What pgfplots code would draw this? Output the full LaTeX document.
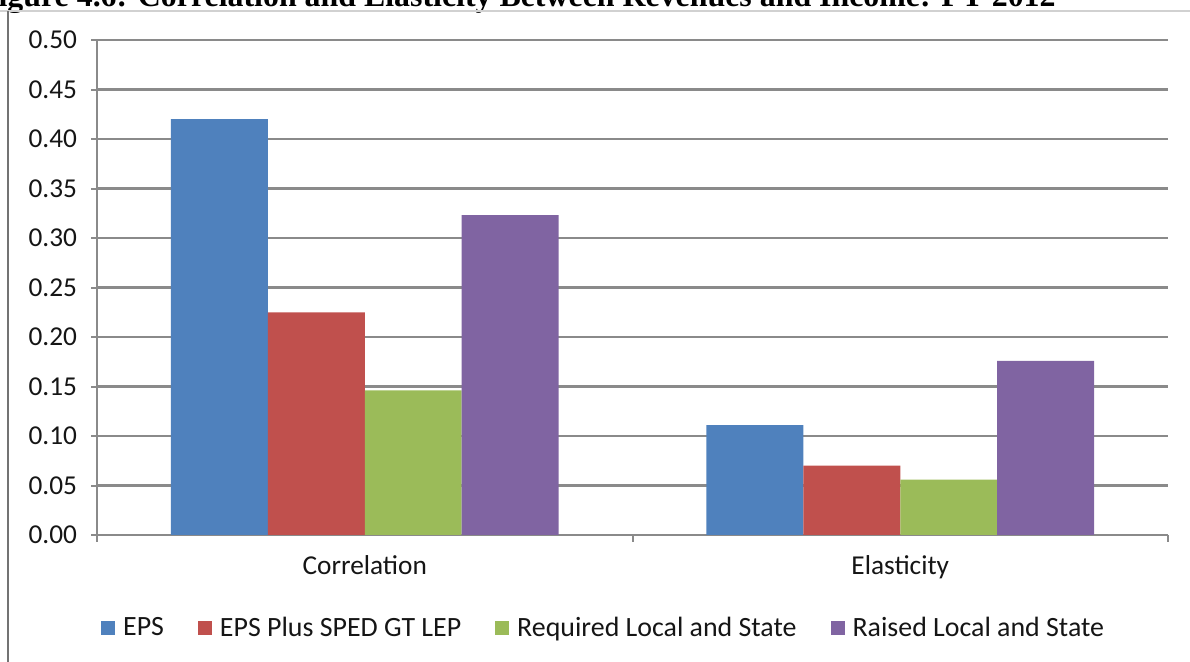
\documentclass[border=0pt]{standalone}
\usepackage{pgfplots}
\usepackage{pgfplotstable}
\pgfplotsset{compat=1.18}
\usepackage{fontspec}
\setmainfont{Carlito}
\newfontfamily\titlefont{Liberation Serif}

\definecolor{cEPS}{HTML}{4F81BD}
\definecolor{cPlus}{HTML}{C0504D}
\definecolor{cReq}{HTML}{9BBB59}
\definecolor{cRaised}{HTML}{8064A2}
\definecolor{gridc}{HTML}{8A8A8A}
\definecolor{txt}{HTML}{151515}

% correlation (x=0) and elasticity (x=1)
\pgfplotstableread{
x eps plus req raised
0 0.420 0.225 0.146 0.323
1 0.111 0.070 0.056 0.176
}\revdata

\begin{document}
\begin{tikzpicture}
\useasboundingbox (0,0) rectangle (595bp,331bp);
% title, cut by the top edge as in the scan
\node[anchor=base east, text=black, inner sep=0pt, font=\titlefont\bfseries\fontsize{16}{18}\selectfont]
  at (528bp,327.5bp) {Figure 4.6: Correlation and Elasticity Between Revenues and Income: FY 2012};
\draw[black!18, line width=1.4bp] (0,325.5bp) -- (595bp,325.5bp);
\draw[black!55, line width=0.7bp] (4bp,0) -- (4bp,325.5bp);

\begin{axis}[
  at={(48.5bp,63.5bp)}, anchor=south west,
  scale only axis, width=535.5bp, height=247.5bp,
  font=\fontsize{13.7}{16}\selectfont, text=txt,
  xmin=-0.5, xmax=1.5, ymin=0, ymax=0.5,
  axis lines*=left,
  axis line style={gridc, line width=1bp},
  ytick={0,0.05,0.1,0.15,0.2,0.25,0.3,0.35,0.4,0.45,0.5},
  yticklabel style={/pgf/number format/fixed, /pgf/number format/fixed zerofill,
    /pgf/number format/precision=2, /pgf/number format/assume math mode=true,
    xshift=-3.5bp},
  ymajorgrids, grid style={gridc, line width=1.1bp},
  xtick={0,1}, xticklabels={Correlation,Elasticity},
  xticklabel style={yshift=-4bp},
  major x tick style={draw=none},
  minor xtick={-0.5,0.5,1.5},
  tick style={gridc, line width=1bp},
  tick align=outside, major tick length=3bp, minor tick length=3.5bp,
  ybar, bar width=0.181,
  legend columns=4,
  legend style={draw=none, fill=none, at={(0.474,-0.188)}, anchor=center,
    font=\fontsize{14}{16}\selectfont,
    /tikz/every odd column/.append style={column sep=2bp},
    /tikz/every even column/.append style={column sep=15bp}},
  legend image code/.code={\fill[#1] (0bp,-3.5bp) rectangle (7bp,3.5bp);},
]
\addplot[fill=cEPS, draw=none, bar shift=-0.2715] table[x=x, y=eps] {\revdata};
\addplot[fill=cPlus, draw=none, bar shift=-0.0905] table[x=x, y=plus] {\revdata};
\addplot[fill=cReq, draw=none, bar shift=0.0905] table[x=x, y=req] {\revdata};
\addplot[fill=cRaised, draw=none, bar shift=0.2715] table[x=x, y=raised] {\revdata};
\legend{EPS, EPS Plus SPED GT LEP, Required Local and State, Raised Local and State}
\end{axis}
\end{tikzpicture}
\end{document}
